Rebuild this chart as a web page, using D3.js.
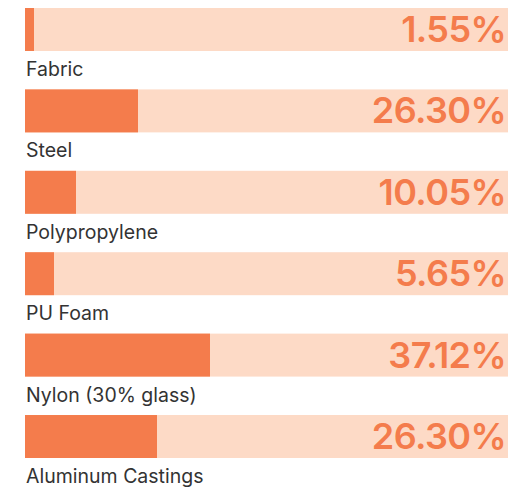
<!DOCTYPE html>
<html>
<head>
<meta charset="utf-8">
<script src="https://cdn.jsdelivr.net/npm/d3@7"></script>
<style>
  html, body { margin: 0; padding: 0; background: #ffffff; }
  svg { display: block; }
</style>
</head>
<body>
<svg id="chart" width="508" height="489"></svg>
<script>
// Data
const categories = ["Fabric", "Steel", "Polypropylene", "PU Foam", "Nylon (30% glass)", "Aluminum Castings"];
const shareLabels = [1.55, 26.30, 10.05, 5.65, 37.12, 26.30];   // printed values (%)
const barShares = [1.8, 22.6, 10.2, 5.8, 37.0, 26.4];            // bar lengths as drawn (%)

const W = 508, H = 489;
const svg = d3.select("#chart");

const x = d3.scaleLinear().domain([0, 100]).range([25, 525]);
const y = d3.scaleBand().domain(categories).range([8, 458]).paddingInner(0.472).paddingOuter(0);

const rows = svg.selectAll("g.row")
  .data(categories.map((c, i) => ({ c, label: shareLabels[i], bar: barShares[i] })))
  .join("g").attr("class", "row");

rows.append("rect")
  .attr("x", x(0))
  .attr("y", d => y(d.c))
  .attr("width", W - x(0))
  .attr("height", y.bandwidth())
  .attr("fill", "#FDDAC6");

rows.append("rect")
  .attr("x", x(0))
  .attr("y", d => y(d.c))
  .attr("width", d => x(d.bar) - x(0))
  .attr("height", y.bandwidth())
  .attr("fill", "#F47C4C");

rows.append("text")
  .attr("x", W - 2)
  .attr("y", d => y(d.c) + 34)
  .attr("text-anchor", "end")
  .attr("font-family", "Inter, sans-serif")
  .attr("font-weight", 600)
  .attr("font-size", 36)
  .attr("letter-spacing", -0.6)
  .attr("fill", "#F47C4C")
  .text(d => d.label.toFixed(2) + "%");

rows.append("text")
  .attr("x", x(0) + 1)
  .attr("y", d => y(d.c) + y.bandwidth() + 25)
  .attr("font-family", "Inter, sans-serif")
  .attr("font-size", 19.5)
  .attr("fill", "#333333")
  .text(d => d.c);
</script>
</body>
</html>
